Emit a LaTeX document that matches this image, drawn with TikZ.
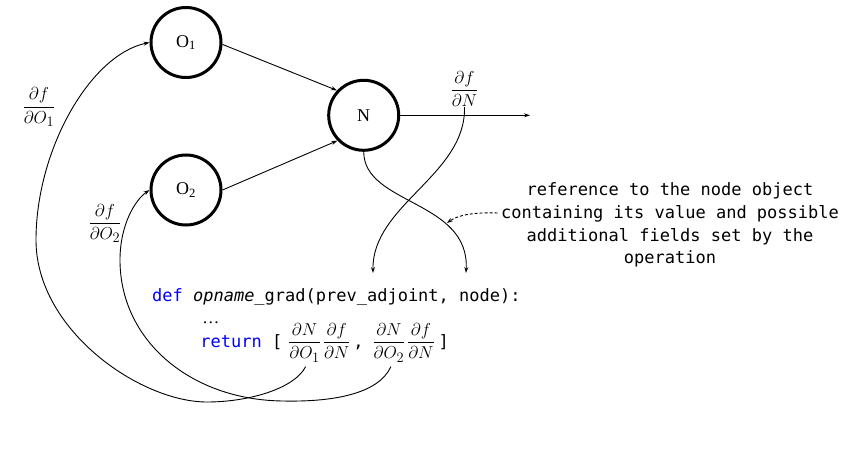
\documentclass[tikz,border=0pt]{standalone}
\usepackage{amsmath, amssymb}
\usepackage{xcolor}
\usepackage{fontspec}
\setmainfont{Liberation Serif}
\setmonofont{DejaVu Sans Mono}
\usepackage{tikz}
\usetikzlibrary{calc, arrows.meta}

\newcommand{\partialfrac}[2]{$\displaystyle\frac{\partial #1}{\partial #2}$}

\tikzset{
	opnode/.style={circle, draw, line width=3pt, minimum size=70pt, inner sep=0pt, font=\fontsize{18}{20}\selectfont},
	grad/.style={inner sep=0pt, font=\fontsize{19}{22}\selectfont},
	code/.style={inner sep=0pt, font=\ttfamily\fontsize{17}{22.7}\selectfont},
}

\begin{document}
\begin{tikzpicture}[x=1pt, y=-1pt, line width=0.9pt]
					\useasboundingbox (0,0) rectangle (860,460);

					\begin{scope}
						\node[opnode] (O1) at (186,42.5) {O\textsubscript{1}};
						\node[opnode] (O2) at (186,190) {O\textsubscript{2}};
						\node[opnode] (N) at (363.7,115.3) {N};
					\end{scope}

					\begin{scope}
						\node[grad] (dfdO1) at (39,107) {\partialfrac{f}{O_1}};
						\node[grad] (dfdO2) at (105,223.5) {\partialfrac{f}{O_2}};
						\node[grad] (dfdN) at (464.5,89) {\partialfrac{f}{N}};

						\node[code, align=center] (info) at (670,225) {reference to the node object\\containing its value and possible\\additional fields set by the\\operation};
					\end{scope}

					\begin{scope}
						\node[code, anchor=base west] (defline) at (151.7,301.7) {\textcolor{blue}{def} \textit{opname}\_grad(prev\_adjoint, node):};
						\node[code, anchor=base west] (dots) at (202,323) {\rmfamily …};
						\node[code, anchor=base west] (ret) at (200,347) {\textcolor{blue}{return} [};
						\node[grad, anchor=base west] (dNdO1) at ($(ret.base east)+(5,0)$) {\partialfrac{N}{O_1}};
						\node[grad, anchor=base west] (dfdN1) at ($(dNdO1.base east)+(1,0)$) {\partialfrac{f}{N}};
						\node[code, anchor=base west] (comma) at ($(dfdN1.base east)+(2,0)$) {,};
						\node[grad, anchor=base west] (dNdO2) at ($(comma.base east)+(8,0)$) {\partialfrac{N}{O_2}};
						\node[grad, anchor=base west] (dfdN2) at ($(dNdO2.base east)+(1,0)$) {\partialfrac{f}{N}};
						\node[code, anchor=base west] (rbr) at ($(dfdN2.base east)+(3,0)$) {]};
					\end{scope}

					\coordinate (outN) at (530,115.3);
					\coordinate (toPrev) at (373,273);
					\coordinate (toNode) at (466,273);
					\coordinate (nodeRef) at (447,223);

					\begin{scope}[-{Stealth[length=6pt, width=4pt]}]
						\draw (O1.-3) -- (N.137);
						\draw (O2.east) -- (N.224);
						\draw (N.east) -- (outN);

						\draw (N.south) .. controls (364,205) and (470,200) .. (toNode);
						\draw (dfdN.south) .. controls (466,175) and (372,205) .. (toPrev);

						\draw ($(dNdO1.south)+(1,4)$) .. controls (295,388) and (250,402) .. (207,402)
							.. controls (140,402) and (36,330) .. (36,240)
							.. controls (36,150) and (90,55) .. (O1.west);
						\draw ($(dNdO2.south)+(2,4)$) .. controls (378,395) and (330,402) .. (283,401)
							.. controls (190,400) and (120,340) .. (120,260)
							.. controls (120,225) and (135,200) .. (O2.west);

						\draw[dash pattern=on 3pt off 2pt] ($(info.west)+(-3,-12)$) .. controls (475,212) and (458,215) .. (nodeRef);
					\end{scope}
				\end{tikzpicture}
\end{document}
